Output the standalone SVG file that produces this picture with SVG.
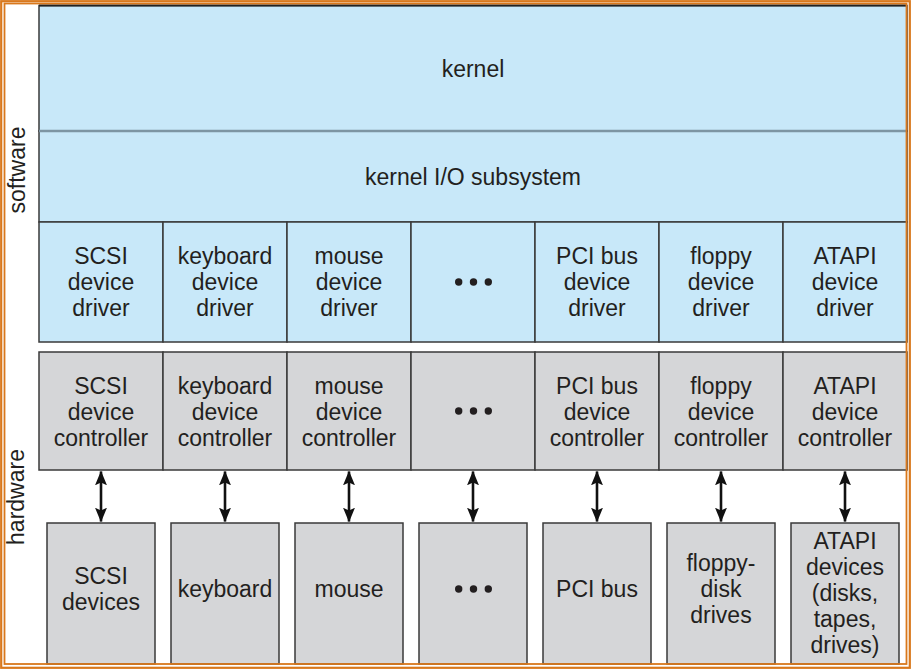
<svg xmlns="http://www.w3.org/2000/svg" width="912" height="670" viewBox="0 0 912 670">
<defs>
<style>
text{font-family:"Liberation Sans",Arial,sans-serif;font-size:23px;fill:#231f20;text-anchor:middle}
.sw{fill:#c8e8f9;stroke:#3a3a3a;stroke-width:1.5}
.hw{fill:#d5d6d8;stroke:#3a3a3a;stroke-width:1.5}
.conn{stroke:#111;stroke-width:2.6;fill:none;marker-start:url(#ah);marker-end:url(#ah)}
.dot{fill:#231f20}
</style>
<marker id="ah" viewBox="0 0 10 10" refX="9.5" refY="5" markerWidth="5.6" markerHeight="4.6" orient="auto-start-reverse" markerUnits="strokeWidth" preserveAspectRatio="none">
<path d="M0,0 L10,5 L0,10 L2,5 z" fill="#111"/>
</marker>
</defs>
<rect x="0" y="0" width="912" height="670" fill="#fff"/>

<g id="label-software"><text transform="translate(25,170) rotate(-90)" font-size="23.5">software</text></g>
<g id="label-hardware"><text transform="translate(24,497) rotate(-90)" font-size="23.5">hardware</text></g>

<g id="kernel"><rect class="sw" x="39" y="5.5" width="868" height="125.5"/><line x1="39" y1="5.5" x2="907" y2="5.5" stroke="#222" stroke-width="2"/><text x="473" y="77">kernel</text></g>
<g id="kernel-io"><rect class="sw" x="39" y="131" width="868" height="91"/><line x1="39" y1="131" x2="907" y2="131" stroke="#7d95a3" stroke-width="2.5"/><text x="473" y="185">kernel I/O subsystem</text></g>

<g id="scsi-driver"><rect class="sw" x="39" y="222" width="124" height="120"/><text x="101" y="264">SCSI</text><text x="101" y="290">device</text><text x="101" y="316">driver</text></g>
<g id="keyboard-driver"><rect class="sw" x="163" y="222" width="124" height="120"/><text x="225" y="264">keyboard</text><text x="225" y="290">device</text><text x="225" y="316">driver</text></g>
<g id="mouse-driver"><rect class="sw" x="287" y="222" width="124" height="120"/><text x="349" y="264">mouse</text><text x="349" y="290">device</text><text x="349" y="316">driver</text></g>
<g id="more-driver"><rect class="sw" x="411" y="222" width="124" height="120"/><circle class="dot" cx="458.7" cy="282" r="3.7"/><circle class="dot" cx="473.5" cy="282" r="3.7"/><circle class="dot" cx="488.3" cy="282" r="3.7"/></g>
<g id="pci-driver"><rect class="sw" x="535" y="222" width="124" height="120"/><text x="597" y="264">PCI bus</text><text x="597" y="290">device</text><text x="597" y="316">driver</text></g>
<g id="floppy-driver"><rect class="sw" x="659" y="222" width="124" height="120"/><text x="721" y="264">floppy</text><text x="721" y="290">device</text><text x="721" y="316">driver</text></g>
<g id="atapi-driver"><rect class="sw" x="783" y="222" width="124" height="120"/><text x="845" y="264">ATAPI</text><text x="845" y="290">device</text><text x="845" y="316">driver</text></g>

<g id="scsi-controller"><rect class="hw" x="39" y="352" width="124" height="118"/><text x="101" y="394">SCSI</text><text x="101" y="420">device</text><text x="101" y="446">controller</text></g>
<g id="keyboard-controller"><rect class="hw" x="163" y="352" width="124" height="118"/><text x="225" y="394">keyboard</text><text x="225" y="420">device</text><text x="225" y="446">controller</text></g>
<g id="mouse-controller"><rect class="hw" x="287" y="352" width="124" height="118"/><text x="349" y="394">mouse</text><text x="349" y="420">device</text><text x="349" y="446">controller</text></g>
<g id="more-controller"><rect class="hw" x="411" y="352" width="124" height="118"/><circle class="dot" cx="458.7" cy="411" r="3.7"/><circle class="dot" cx="473.5" cy="411" r="3.7"/><circle class="dot" cx="488.3" cy="411" r="3.7"/></g>
<g id="pci-controller"><rect class="hw" x="535" y="352" width="124" height="118"/><text x="597" y="394">PCI bus</text><text x="597" y="420">device</text><text x="597" y="446">controller</text></g>
<g id="floppy-controller"><rect class="hw" x="659" y="352" width="124" height="118"/><text x="721" y="394">floppy</text><text x="721" y="420">device</text><text x="721" y="446">controller</text></g>
<g id="atapi-controller"><rect class="hw" x="783" y="352" width="124" height="118"/><text x="845" y="394">ATAPI</text><text x="845" y="420">device</text><text x="845" y="446">controller</text></g>

<g id="scsi-devices"><rect class="hw" x="47" y="523" width="108" height="141"/><text x="101" y="584">SCSI</text><text x="101" y="610">devices</text></g>
<g id="keyboard"><rect class="hw" x="171" y="523" width="108" height="141"/><text x="225" y="597">keyboard</text></g>
<g id="mouse"><rect class="hw" x="295" y="523" width="108" height="141"/><text x="349" y="597">mouse</text></g>
<g id="more-devices"><rect class="hw" x="419" y="523" width="108" height="141"/><circle class="dot" cx="458.7" cy="589" r="3.7"/><circle class="dot" cx="473.5" cy="589" r="3.7"/><circle class="dot" cx="488.3" cy="589" r="3.7"/></g>
<g id="pci-bus"><rect class="hw" x="543" y="523" width="108" height="141"/><text x="597" y="597">PCI bus</text></g>
<g id="floppy-drives"><rect class="hw" x="667" y="523" width="108" height="141"/><text x="721" y="571">floppy-</text><text x="721" y="597">disk</text><text x="721" y="623">drives</text></g>
<g id="atapi-devices"><rect class="hw" x="791" y="523" width="108" height="141"/><text x="845" y="549">ATAPI</text><text x="845" y="575">devices</text><text x="845" y="601">(disks,</text><text x="845" y="627">tapes,</text><text x="845" y="653">drives)</text></g>

<g id="connectors">
<line class="conn" x1="101" y1="471.5" x2="101" y2="521.5"/>
<line class="conn" x1="225" y1="471.5" x2="225" y2="521.5"/>
<line class="conn" x1="349" y1="471.5" x2="349" y2="521.5"/>
<line class="conn" x1="473" y1="471.5" x2="473" y2="521.5"/>
<line class="conn" x1="597" y1="471.5" x2="597" y2="521.5"/>
<line class="conn" x1="721" y1="471.5" x2="721" y2="521.5"/>
<line class="conn" x1="845" y1="471.5" x2="845" y2="521.5"/>
</g>

<g id="frame" fill="none">
<rect x="4.5" y="3.5" width="902" height="660.5" stroke="#d9781c" stroke-width="1.8"/>
<rect x="1.2" y="1.2" width="908.6" height="666.6" stroke="#d9781c" stroke-width="2.2"/>
</g>
</svg>
